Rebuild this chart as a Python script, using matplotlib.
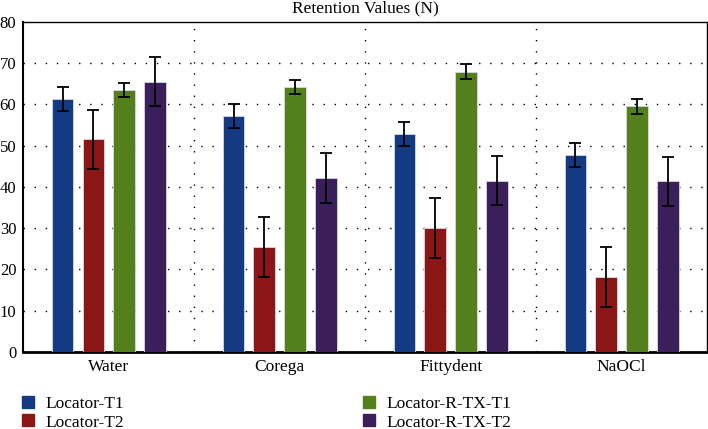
import matplotlib
matplotlib.use("Agg")
import matplotlib.pyplot as plt
import numpy as np
from matplotlib.lines import Line2D

categories = ["Water", "Corega", "Fittydent", "NaOCl"]
series = ["Locator-T1", "Locator-T2", "Locator-R-TX-T1", "Locator-R-TX-T2"]
means = {
    "Locator-T1":      [61.3, 57.1, 52.9, 47.8],
    "Locator-T2":      [51.5, 25.4, 30.0, 18.2],
    "Locator-R-TX-T1": [63.4, 64.2, 67.9, 59.5],
    "Locator-R-TX-T2": [65.5, 42.2, 41.5, 41.3],
}
errors = {
    "Locator-T1":      [2.9, 2.9, 2.9, 2.9],
    "Locator-T2":      [7.2, 7.2, 7.2, 7.2],
    "Locator-R-TX-T1": [1.7, 1.7, 1.75, 1.75],
    "Locator-R-TX-T2": [6.0, 6.0, 6.0, 6.0],
}
colors = ["#143A84", "#8A1616", "#54801C", "#3A1F5B"]
yticks = [0, 10, 20, 30, 40, 50, 60, 70, 80]

plt.rcParams['font.family'] = ['Liberation Serif', 'DejaVu Serif']

fig = plt.figure(figsize=(7.08, 4.29), dpi=100)
ax = fig.add_axes([0.0329, 0.1795, 0.9657, 0.7699])

x = np.arange(len(categories))
spacing = 0.18
width = 0.127
for i, s in enumerate(series):
    off = (i - 1.5) * spacing
    ax.bar(x + off, means[s], width=width, color=colors[i], edgecolor="#d8d8e8",
           linewidth=0.6, zorder=3)
    ax.errorbar(x + off, means[s], yerr=errors[s], fmt="none", ecolor="black",
                elinewidth=1.3, capsize=4, capthick=1.3, zorder=4)

ax.set_xlim(-0.5, len(categories) - 0.5)
ax.set_ylim(0, 80)
ax.set_yticks(yticks)
ax.set_yticklabels([str(t) for t in yticks], fontsize=12)
ax.set_xticks(x)
ax.set_xticklabels(categories, fontsize=12.5)
ax.tick_params(axis="both", length=0)
ax.tick_params(axis="x", pad=5)
ax.tick_params(axis="y", pad=5)

for yv in yticks[1:-1]:
    ax.axhline(yv, color="black", linestyle=(0, (1, 7)), linewidth=1.0, zorder=1)
for xv in x[:-1] + 0.5:
    ax.axvline(xv, color="black", linestyle=(0, (1, 7)), linewidth=1.0, zorder=1)

for sp in ["top", "right"]:
    ax.spines[sp].set_linewidth(1.0)
ax.spines["left"].set_linewidth(1.5)
ax.spines["bottom"].set_linewidth(2.0)

ax.set_title("Retention Values (N)", fontsize=12.5, pad=7)

handles = [Line2D([0], [0], marker="s", linestyle="none", markersize=8,
                  markerfacecolor=c, markeredgecolor=c) for c in colors]
fig.legend(handles, series, loc="lower left", bbox_to_anchor=(0.005, -0.04),
           ncol=2, frameon=False, fontsize=12.5, handletextpad=0.5,
           columnspacing=13.65, labelspacing=0.12, handlelength=1.0)

fig.savefig("out.png", dpi=100)
